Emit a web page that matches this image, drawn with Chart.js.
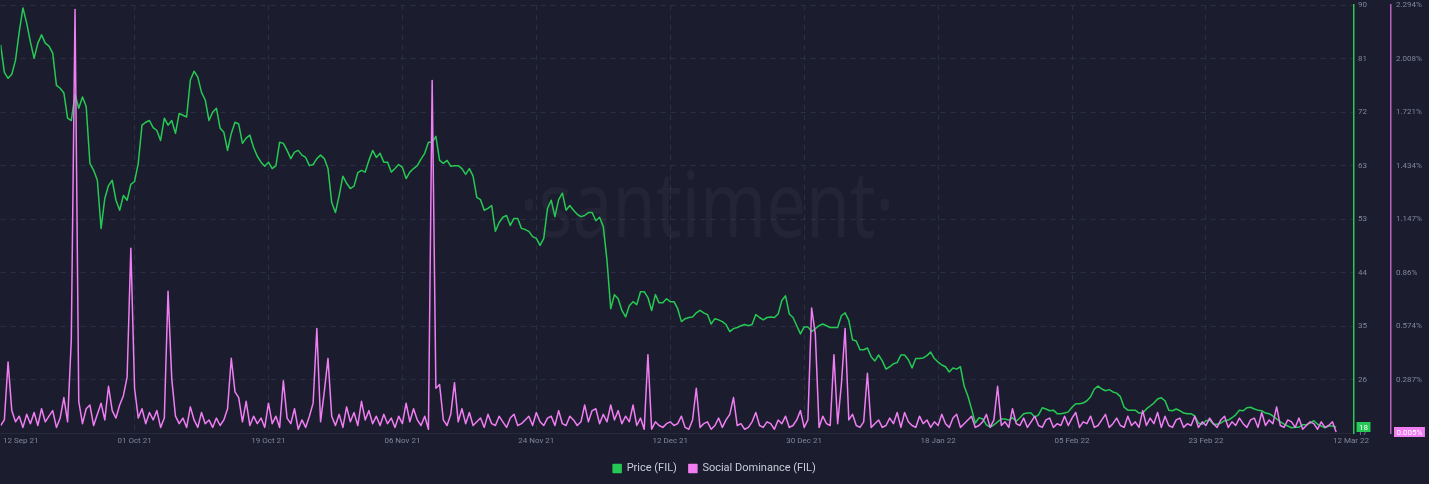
<!DOCTYPE html>
<html>
<head>
<meta charset="utf-8">
<title>Price (FIL) / Social Dominance (FIL)</title>
<script src="https://cdn.jsdelivr.net/npm/chart.js@4.4.1/dist/chart.umd.min.js"></script>
<style>
  html, body { margin: 0; padding: 0; background: #1b1d2e; }
  #wrap { position: relative; width: 1429px; height: 484px; }
</style>
</head>
<body>
<div id="wrap"><canvas id="chart"></canvas></div>
<script>
// x axis: one point every half day, ticks every 36 points
const dateLabels = ["12 Sep 21", "01 Oct 21", "19 Oct 21", "06 Nov 21", "24 Nov 21", "12 Dec 21",
    "30 Dec 21", "18 Jan 22", "05 Feb 22", "23 Feb 22", "12 Mar 22"];
const dateTickIndex = [5.4, 36, 72, 108, 144, 180, 216, 252, 288, 324, 363];
const lastIndex = 363.8;

const priceTicks = ["17", "26", "35", "44", "53", "63", "72", "81", "90"];
const dominanceTicks = ["", "0.287%", "0.574%", "0.86%", "1.147%", "1.434%", "1.721%", "2.008%", "2.294%"];

const price = [
    83.2, 78.5, 77.5, 78.2, 80.6, 85.4, 89.5, 86.9, 83.7, 80.9,
    83.5, 84.9, 83.5, 83.0, 81.8, 76.3, 75.8, 75.0, 70.7, 70.3,
    74.8, 72.4, 74.3, 72.7, 63.0, 61.8, 60.1, 51.9, 57.0, 59.2,
    60.1, 56.7, 55.0, 57.5, 56.7, 59.4,
    59.9, 63.0, 69.5, 70.0, 70.3, 69.1, 68.6, 66.9, 70.7, 69.5,
    70.3, 68.1, 71.5, 71.2, 70.9, 77.2, 78.7, 77.7, 75.1, 73.8,
    70.3, 71.7, 72.4, 69.0, 68.3, 65.2, 68.1, 70.0, 69.7, 66.4,
    67.3, 67.8, 65.7, 64.2, 63.2, 62.5,
    63.2, 62.1, 62.6, 66.6, 66.4, 65.2, 63.8, 64.9, 65.2, 64.4,
    64.0, 62.6, 62.8, 63.8, 64.4, 63.8, 62.1, 56.3, 54.6, 57.5,
    60.8, 59.6, 58.7, 59.1, 61.4, 61.8, 61.5, 63.5, 65.2, 64.0,
    64.7, 63.2, 63.2, 61.5, 62.1, 62.8,
    62.3, 60.4, 61.5, 62.1, 62.6, 63.7, 64.7, 66.6, 66.6, 67.6,
    63.5, 63.0, 63.5, 62.5, 62.6, 62.6, 62.1, 61.1, 62.1, 60.8,
    57.2, 56.8, 55.0, 55.3, 55.8, 51.4, 52.9, 53.8, 54.1, 52.4,
    53.6, 53.6, 51.9, 51.7, 51.4, 50.5,
    50.2, 49.0, 50.2, 55.3, 56.7, 53.9, 56.8, 57.9, 55.0, 55.8,
    55.0, 54.3, 53.9, 54.1, 54.6, 54.6, 53.2, 53.8, 52.2, 46.4,
    38.2, 40.6, 39.9, 37.9, 36.8, 38.7, 39.4, 38.9, 41.1, 41.1,
    40.1, 37.9, 40.6, 39.2, 39.2, 39.9,
    39.4, 39.4, 38.2, 36.0, 36.5, 36.7, 36.8, 37.5, 37.9, 37.5,
    37.2, 35.6, 36.5, 36.3, 36.0, 35.5, 34.3, 34.8, 35.0, 35.3,
    35.5, 35.3, 35.5, 37.2, 36.7, 36.3, 36.7, 36.8, 36.7, 37.3,
    39.6, 40.4, 37.3, 36.7, 35.3, 33.9,
    35.1, 35.1, 34.3, 34.8, 35.3, 35.6, 35.3, 35.0, 35.0, 35.0,
    37.0, 37.5, 36.2, 32.9, 32.7, 31.2, 31.2, 31.5, 30.0, 29.3,
    30.3, 29.3, 27.9, 28.3, 28.8, 29.0, 30.3, 30.3, 29.5, 28.1,
    29.7, 29.7, 29.8, 30.2, 30.8, 29.7,
    29.1, 28.6, 28.3, 27.4, 28.1, 27.9, 28.3, 25.0, 23.3, 21.1,
    18.7, 19.6, 19.4, 18.4, 18.0, 18.4, 18.9, 19.4, 19.4, 19.2,
    19.6, 19.0, 19.6, 20.3, 20.4, 20.4, 19.7, 20.1, 21.3, 21.1,
    20.8, 20.9, 20.3, 20.3, 20.4, 20.6,
    21.4, 22.0, 22.0, 22.1, 22.5, 23.2, 24.5, 25.0, 24.5, 24.2,
    24.4, 24.0, 23.8, 23.2, 21.4, 20.9, 20.9, 20.9, 20.4, 20.4,
    21.1, 21.6, 22.1, 22.8, 23.0, 22.5, 20.9, 20.8, 21.1, 20.8,
    20.4, 20.3, 20.3, 19.9, 18.7, 18.5,
    19.1, 19.2, 18.5, 18.5, 18.7, 19.1, 19.2, 19.6, 20.1, 20.9,
    20.8, 21.3, 21.4, 21.1, 20.9, 20.8, 20.4, 20.3, 19.9, 19.4,
    18.9, 18.5, 18.2, 17.9, 18.0, 18.0, 18.4, 18.4, 18.7, 19.1,
    18.5, 18.2, 17.9, 18.2, 18.2, 18.0
];

const socialDominance = [
    0.04, 0.07, 0.38, 0.12, 0.06, 0.09, 0.03, 0.10, 0.05, 0.11,
    0.04, 0.13, 0.06, 0.09, 0.12, 0.03, 0.08, 0.19, 0.06, 0.50,
    2.27, 0.17, 0.05, 0.13, 0.15, 0.04, 0.10, 0.16, 0.07, 0.25,
    0.12, 0.08, 0.15, 0.20, 0.30, 0.99,
    0.24, 0.08, 0.13, 0.05, 0.11, 0.07, 0.12, 0.03, 0.08, 0.76,
    0.29, 0.09, 0.05, 0.08, 0.03, 0.14, 0.07, 0.03, 0.11, 0.05,
    0.07, 0.03, 0.08, 0.04, 0.07, 0.13, 0.40, 0.22, 0.19, 0.06,
    0.17, 0.04, 0.09, 0.05, 0.08, 0.03,
    0.16, 0.05, 0.09, 0.03, 0.28, 0.08, 0.05, 0.13, 0.02, 0.07,
    0.03, 0.09, 0.16, 0.56, 0.06, 0.22, 0.40, 0.09, 0.04, 0.10,
    0.03, 0.14, 0.06, 0.11, 0.04, 0.17, 0.07, 0.12, 0.05, 0.09,
    0.04, 0.10, 0.05, 0.08, 0.03, 0.09,
    0.05, 0.16, 0.06, 0.13, 0.07, 0.04, 0.09, 0.02, 1.89, 0.24,
    0.26, 0.07, 0.04, 0.10, 0.27, 0.06, 0.13, 0.05, 0.11, 0.04,
    0.06, 0.08, 0.03, 0.10, 0.05, 0.04, 0.09, 0.06, 0.03, 0.08,
    0.10, 0.04, 0.05, 0.07, 0.09, 0.04,
    0.11, 0.06, 0.04, 0.08, 0.09, 0.04, 0.12, 0.05, 0.04, 0.09,
    0.07, 0.04, 0.06, 0.15, 0.06, 0.12, 0.13, 0.05, 0.10, 0.06,
    0.15, 0.07, 0.12, 0.05, 0.09, 0.06, 0.15, 0.04, 0.08, 0.02,
    0.42, 0.02, 0.06, 0.04, 0.03, 0.05,
    0.06, 0.04, 0.05, 0.09, 0.03, 0.02, 0.07, 0.24, 0.03, 0.05,
    0.06, 0.02, 0.04, 0.08, 0.03, 0.07, 0.10, 0.19, 0.04, 0.05,
    0.02, 0.03, 0.06, 0.11, 0.04, 0.03, 0.06, 0.05, 0.02, 0.07,
    0.05, 0.09, 0.03, 0.04, 0.07, 0.12,
    0.03, 0.07, 0.67, 0.53, 0.03, 0.09, 0.05, 0.04, 0.42, 0.05,
    0.26, 0.56, 0.07, 0.10, 0.04, 0.03, 0.06, 0.32, 0.03, 0.05,
    0.07, 0.03, 0.04, 0.08, 0.05, 0.11, 0.03, 0.11, 0.06, 0.04,
    0.03, 0.09, 0.05, 0.07, 0.03, 0.06,
    0.04, 0.10, 0.05, 0.03, 0.08, 0.10, 0.03, 0.05, 0.07, 0.09,
    0.03, 0.04, 0.06, 0.10, 0.03, 0.07, 0.25, 0.04, 0.06, 0.03,
    0.13, 0.05, 0.04, 0.08, 0.03, 0.06, 0.09, 0.04, 0.03, 0.07,
    0.08, 0.03, 0.05, 0.04, 0.09, 0.04,
    0.08, 0.11, 0.03, 0.06, 0.05, 0.09, 0.03, 0.04, 0.07, 0.10,
    0.03, 0.05, 0.08, 0.04, 0.03, 0.09, 0.04, 0.06, 0.03, 0.12,
    0.04, 0.08, 0.05, 0.11, 0.03, 0.09, 0.04, 0.03, 0.07, 0.08,
    0.03, 0.05, 0.04, 0.09, 0.03, 0.06,
    0.04, 0.08, 0.05, 0.03, 0.07, 0.09, 0.03, 0.06, 0.04, 0.08,
    0.05, 0.03, 0.07, 0.08, 0.03, 0.11, 0.04, 0.07, 0.05, 0.14,
    0.04, 0.03, 0.07, 0.06, 0.03, 0.08, 0.02, 0.04, 0.06, 0.05,
    0.02, 0.06, 0.03, 0.04, 0.06, 0.005
];

const GREEN = "#26c953";
const PINK = "#f07ef2";
const GRID = "#2b2f42";
const TICK = "#80859a";

// faint "santiment" mark behind the lines
const watermark = {
    id: "watermark",
    beforeDatasetsDraw(chart) {
        const ctx = chart.ctx;
        const text = "\u00B7santiment\u00B7";
        ctx.save();
        ctx.font = '400 92px "Noto Sans"';
        ctx.fillStyle = "rgba(255,255,255,0.035)";
        ctx.textAlign = "center";
        ctx.textBaseline = "alphabetic";
        const w = ctx.measureText(text).width;
        ctx.translate(707, 237);
        ctx.scale(375 / w, 1);
        ctx.fillText(text, 0, 0);
        ctx.restore();
    }
};

// current value boxes on the axes
const lastValueBadges = {
    id: "lastValueBadges",
    afterDraw(chart) {
        const ctx = chart.ctx;
        chart.data.datasets.forEach(ds => {
            const scale = chart.scales[ds.yAxisID];
            const v = ds.data[ds.data.length - 1];
            const y = Math.round(scale.getPixelForValue(v));
            const text = ds.yAxisID === "price" ? String(Math.round(v)) : v + "%";
            ctx.save();
            ctx.font = "8px Roboto";
            const w = ctx.measureText(text).width + 5;
            const x = scale.left + (ds.yAxisID === "price" ? 2.5 : 3);
            ctx.fillStyle = ds.borderColor;
            ctx.fillRect(x, y - 5, w, 10);
            ctx.fillStyle = "#ffffff";
            ctx.textBaseline = "middle";
            ctx.fillText(text, x + 2.5, y + 0.5);
            ctx.restore();
        });
    }
};

// fixed axis widths, and no extra room for the end labels
function fitRightAxis(width) {
    return scale => {
        scale.width = width;
        scale.paddingTop = 0;
        scale.paddingBottom = 0;
    };
}

new Chart(document.getElementById("chart"), {
    type: "line",
    data: {
        labels: price.map((v, i) => i),
        datasets: [
            {
                label: "Price (FIL)",
                data: price,
                yAxisID: "price",
                borderColor: GREEN,
                backgroundColor: GREEN,
                borderWidth: 1.5,
                order: 1
            },
            {
                label: "Social Dominance (FIL)",
                data: socialDominance,
                yAxisID: "dominance",
                borderColor: PINK,
                backgroundColor: PINK,
                borderWidth: 1.5,
                order: 0
            }
        ]
    },
    options: {
        responsive: true,
        maintainAspectRatio: false,
        animation: false,
        layout: { padding: { top: 5, left: 0, right: 0, bottom: 0 } },
        elements: {
            point: { radius: 0 },
            line: { tension: 0, borderJoinStyle: "round" }
        },
        scales: {
            x: {
                type: "linear",
                min: 0,
                max: lastIndex,
                afterBuildTicks: scale => {
                    scale.ticks = dateTickIndex.map(v => ({ value: v }));
                },
                afterFit: scale => { scale.height = 18; },
                ticks: {
                    autoSkip: false,
                    maxRotation: 0,
                    padding: 3,
                    color: TICK,
                    font: { family: "Roboto", size: 8 },
                    callback: (v, i) => dateLabels[i]
                },
                grid: {
                    drawTicks: false,
                    color: c => (c.index === 0 || c.index === dateLabels.length - 1) ? "rgba(0,0,0,0)" : GRID
                },
                border: { display: true, color: "#262a3b", dash: [5, 5] }
            },
            price: {
                type: "linear",
                position: "right",
                weight: 0,
                min: 17,
                max: 90,
                afterFit: fitRightAxis(37),
                ticks: {
                    count: 9,
                    padding: 4,
                    color: TICK,
                    font: { family: "Roboto", size: 8 },
                    callback: (v, i) => priceTicks[i]
                },
                grid: { drawTicks: false, color: GRID },
                border: { display: true, color: GREEN, width: 1.5, dash: [5, 5] }
            },
            dominance: {
                type: "linear",
                position: "right",
                weight: 1,
                min: 0,
                max: 2.294,
                afterFit: fitRightAxis(38),
                ticks: {
                    count: 9,
                    padding: 5,
                    color: TICK,
                    font: { family: "Roboto", size: 8 },
                    callback: (v, i) => dominanceTicks[i]
                },
                grid: { display: false, drawTicks: false },
                border: { display: true, color: "#b562bf", width: 1.5 }
            }
        },
        plugins: {
            tooltip: { enabled: false },
            legend: {
                position: "bottom",
                labels: {
                    boxWidth: 8,
                    boxHeight: 8,
                    padding: 12,
                    color: "#c9ccd9",
                    font: { family: "Roboto", size: 11 },
                    sort: (a, b) => a.datasetIndex - b.datasetIndex
                }
            }
        }
    },
    plugins: [watermark, lastValueBadges]
});
</script>
</body>
</html>
